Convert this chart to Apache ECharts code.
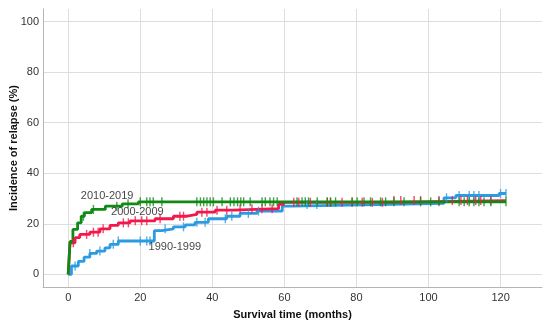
<!DOCTYPE html>
<html><head><meta charset="utf-8">
<script src="https://cdn.jsdelivr.net/npm/echarts@6/dist/echarts.min.js"></script>
<style>html,body{margin:0;padding:0;background:#fff}#c{width:550px;height:326px}</style>
</head><body><div id="c"></div>
<script>
// Step curves: [time (months), cumulative incidence (%)]
const green2010 = [[0,0],[0.5,13],[1.3,17.8],[2.6,20.4],[3.6,23],[4.5,24.4],[6.5,25.7],[10.3,27],[15,27.9],[19.5,28.7],[121.5,28.7]];
const red2000 = [[0,0],[0.5,12.5],[1.9,14.5],[3.2,15.8],[6,16.7],[8.8,18],[11.6,19.4],[13.9,20.4],[17.2,21.2],[24.1,22],[29.2,23],[33,23.7],[35.7,24.6],[40.8,25.4],[45.9,26],[58.4,27.7],[59.8,28.5],[88,29.2],[121.5,29.2]];
const blue1990 = [[0,0],[0.9,3.3],[2.8,5.1],[4.4,6.8],[6,8.3],[7.9,9.2],[10.2,10.5],[11.6,11.9],[13.9,13.2],[23.9,17.3],[26,18],[29.2,18.8],[32.5,19.6],[35.2,20.6],[38.9,22],[44,23],[47.7,24.1],[52.4,25],[59.4,27],[62,27.6],[86,28.1],[104.3,30.3],[107.6,31.2],[119.6,32],[121.5,32]];
// Censoring times (months)
const greenCensor = [4.2,7,13.5,16.6,20,21.8,22.7,23.6,26,35.7,36.7,37.6,38.5,39.4,40.3,42.7,45,46,47,47.9,48.7,50.5,53.8,54.7,56,57,58,63.5,64.9,65.8,66.7,69.1,71.9,72.8,74.2,78.8,80.2,82.1,83.9,86.7,88.1,90.4,93.2,97.8,100.6,102.9,108.5,109.9,111.3,112.6,114,115.4,117.3,121.5];
const redCensor = [1.4,5.1,7,8.3,9.7,15.3,16.7,18.6,20.4,21.8,25.5,31,32,37.1,38.5,41.3,44,47.7,51,53.8,56.6,62.6,64,67.2,71.9,72.8,76,78.8,81.6,84.4,87.2,90.4,92.3,96,97.8,102.9,106.6,109,110.8,113.1,114.5,117.3];
const blueCensor = [1.9,6,8.8,12.5,13.9,20,21.8,22.7,26.9,32,35.7,38,43.6,45.4,50,52.8,66.3,69,105,108.5,111.3,112.6,114,120,121.5];
// Curve labels: [time, value, text]
const curveLabels = [[3.5,30.9,'2010-2019'],[11.9,24.8,'2000-2009'],[22.3,10.9,'1990-1999']];
const xTicks = [0,20,40,60,80,100,120];
const yTicks = [0,20,40,60,80,100];

const C_GREEN = '#118a15', C_RED = '#f2184c', C_BLUE = '#2b9be2';

function stepAt(curve, t){ let v = curve[0][1]; for (const p of curve){ if (p[0] <= t) v = p[1]; } return v; }
function censorPts(curve, times){ return times.map(t => [t, stepAt(curve, t)]); }

const lineS = (name, data, color) => ({ type:'line', name, data, step:'end', symbol:'none',
  lineStyle:{color, width:2.8}, animation:false, z:2 });
const censS = (data, color) => ({ type:'scatter', data, symbol:'rect', symbolSize:[1.4,9],
  itemStyle:{color}, animation:false, z:3, silent:true });

const chart = echarts.init(document.getElementById('c'), null, {renderer:'canvas'});
chart.setOption({
  backgroundColor:'#fff',
  grid:{left:43, top:9, right:8, bottom:39, containLabel:false, outerBoundsMode:'none'},
  xAxis:{type:'value', min:-7, max:131.5,
    name:'Survival time (months)', nameLocation:'middle', nameGap:22, nameMoveOverlap:false,
    nameTextStyle:{fontFamily:'Liberation Sans', fontWeight:'bold', fontSize:11, color:'#111'},
    axisLine:{show:true, onZero:false, lineStyle:{color:'#b5b5b5', width:1}},
    axisTick:{show:false, customValues:xTicks},
    axisLabel:{customValues:xTicks, fontFamily:'Liberation Sans', fontSize:11, color:'#333', margin:5},
    splitLine:{show:true, lineStyle:{color:'#dedede', width:1}}},
  yAxis:{type:'value', min:-5, max:105,
    name:'Incidence of relapse (%)', nameLocation:'middle', nameGap:24, nameMoveOverlap:false,
    nameTextStyle:{fontFamily:'Liberation Sans', fontWeight:'bold', fontSize:11, color:'#111'},
    axisLine:{show:true, onZero:false, lineStyle:{color:'#b5b5b5', width:1}},
    axisTick:{show:false, customValues:yTicks},
    axisLabel:{customValues:yTicks, fontFamily:'Liberation Sans', fontSize:11, color:'#333', margin:4},
    splitLine:{show:true, lineStyle:{color:'#dedede', width:1}}},
  series:[
    lineS('1990-1999', blue1990, C_BLUE),
    censS(censorPts(blue1990, blueCensor), C_BLUE),
    lineS('2000-2009', red2000, C_RED),
    censS(censorPts(red2000, redCensor), C_RED),
    lineS('2010-2019', green2010, C_GREEN),
    censS(censorPts(green2010, greenCensor), C_GREEN),
    {type:'scatter', data:curveLabels.map(d=>({value:[d[0],d[1]], name:d[2]})), symbolSize:0, silent:true, animation:false, z:5,
      label:{show:true, position:'right', distance:0, formatter:p=>p.name, fontFamily:'Liberation Sans', fontSize:11, color:'#111'}}
  ]
});
</script></body></html>
